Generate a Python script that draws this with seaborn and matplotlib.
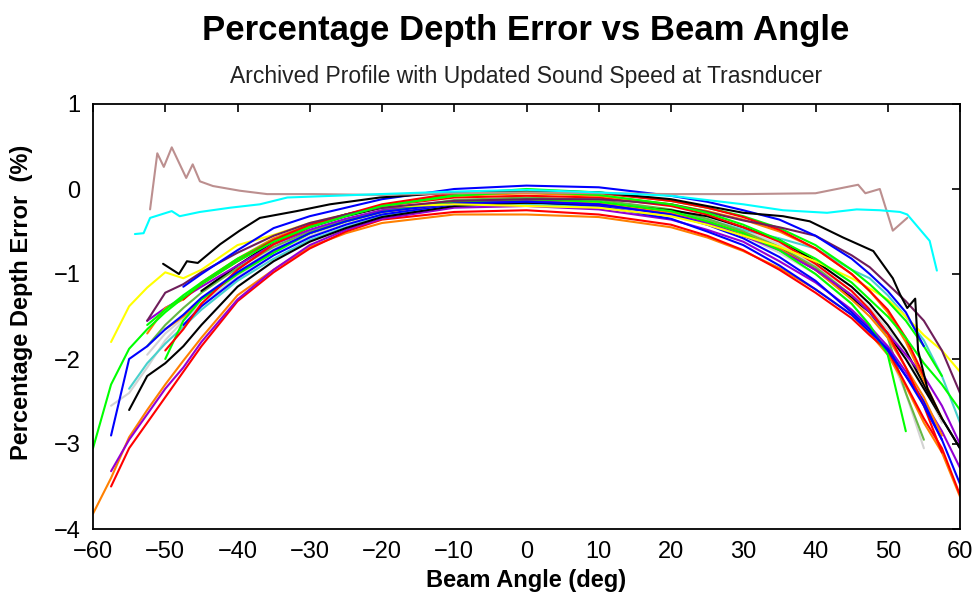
import numpy as np
import pandas as pd
import matplotlib
matplotlib.use("Agg")
import matplotlib.pyplot as plt
import seaborn as sns

sns.set_style("white")
plt.rcParams["font.family"] = ["Liberation Sans", "DejaVu Sans"]
plt.rcParams["text.color"] = "black"
plt.rcParams["xtick.color"] = "black"
plt.rcParams["ytick.color"] = "black"

# Shared angle grid for the main bundle of profiles (deg)
ANGLES = [-60, -57.5, -55, -52.5, -50, -47.5, -45, -40, -35, -30, -25, -20, -10, 0,
          10, 20, 25, 30, 35, 40, 45, 47.5, 50, 52.5, 55, 57.5, 60]
N = None

yellow   = [N, -1.80, -1.38, -1.16, -0.98, -1.05, -0.95, -0.66, -0.54, -0.40, -0.30, -0.21, -0.18, -0.20,
            -0.22, -0.32, -0.42, -0.55, -0.68, -0.85, -1.05, -1.17, -1.30, -1.50, -1.72, -1.90, -2.15]
green_a  = [-3.05, -2.30, -1.88, -1.65, -1.45, -1.28, -1.12, -0.85, -0.62, -0.45, -0.32, -0.20, -0.08, -0.03,
            -0.07, -0.18, -0.28, -0.42, -0.60, -0.82, -1.10, -1.30, -1.50, -1.75, -2.05, -2.30, -2.60]
green_b  = [N, N, N, N, -2.00, -1.55, -1.30, -1.00, -0.75, -0.52, -0.38, -0.27, -0.15, -0.12,
            -0.15, -0.26, -0.38, -0.52, -0.72, -1.00, -1.35, -1.60, -1.95, -2.85, N, N, N]
green_c  = [N, N, N, -1.60, -1.42, -1.25, -1.10, -0.82, -0.60, -0.43, -0.30, -0.20, -0.06, 0.00,
            -0.04, -0.14, -0.22, -0.32, -0.46, -0.66, -0.95, -1.12, -1.32, -1.55, -1.85, -2.20, N]
olive    = [N, N, N, -1.85, -1.60, -1.40, -1.22, -0.93, -0.68, -0.50, -0.36, -0.25, -0.13, -0.10,
            -0.13, -0.24, -0.35, -0.50, -0.68, -0.92, -1.25, -1.45, -1.75, -2.40, -2.95, N, N]
blue_a   = [N, -2.90, -2.00, -1.85, -1.65, -1.48, -1.28, -0.98, -0.72, -0.52, -0.38, -0.27, -0.17, -0.15,
            -0.18, -0.30, -0.42, -0.58, -0.80, -1.08, -1.45, -1.65, -1.90, -2.20, -2.55, -2.95, -3.47]
blue_b   = [N, N, N, N, N, -1.15, -1.00, -0.72, -0.46, -0.32, -0.22, -0.12, 0.00, 0.04,
            0.02, -0.08, -0.15, -0.25, -0.36, -0.55, -0.82, -1.00, -1.20, -1.45, -1.85, N, N]
blue_c   = [N, N, N, N, N, -1.60, -1.38, -1.05, -0.78, -0.57, -0.42, -0.30, -0.18, -0.15,
            -0.20, -0.35, -0.50, -0.66, -0.90, -1.18, -1.48, -1.68, -1.88, -2.20, -2.50, -2.95, N]
red_a    = [N, -3.50, -3.05, -2.75, -2.45, -2.15, -1.85, -1.32, -0.98, -0.70, -0.50, -0.36, -0.27, -0.25,
            -0.30, -0.42, -0.55, -0.72, -0.95, -1.22, -1.52, -1.72, -1.90, -2.30, -2.70, -3.05, -3.60]
red_b    = [N, N, N, N, -1.90, -1.65, -1.35, -0.95, -0.65, -0.45, -0.30, -0.20, -0.10, -0.08,
            -0.10, -0.20, -0.30, -0.45, -0.62, -0.88, -1.20, -1.42, -1.70, -2.10, -2.55, -3.10, N]
red_c    = [N, N, N, N, N, -1.30, -1.12, -0.85, -0.60, -0.42, -0.30, -0.18, -0.05, -0.02,
            -0.05, -0.14, -0.22, -0.33, -0.48, -0.70, -1.00, -1.20, -1.42, -1.75, -2.20, N, N]
orange_a = [-3.82, -3.40, -2.92, -2.60, -2.30, -2.02, -1.75, -1.25, -0.95, -0.68, -0.52, -0.40, -0.30, -0.30,
            -0.33, -0.45, -0.57, -0.73, -0.93, -1.18, -1.48, -1.70, -1.95, -2.32, -2.75, -3.10, -3.62]
orange_b = [N, N, N, -1.70, -1.40, -1.30, -1.10, -0.82, -0.58, -0.42, -0.30, -0.20, -0.08, -0.05,
            -0.08, -0.18, -0.26, -0.36, -0.50, -0.70, -1.00, -1.20, -1.45, -1.80, -2.25, -2.70, N]
orange_c = [N, N, N, N, -1.65, -1.50, -1.30, -1.00, -0.73, -0.52, -0.38, -0.27, -0.17, -0.14,
            -0.17, -0.28, -0.38, -0.52, -0.70, -0.95, -1.30, -1.50, -1.75, -2.10, -2.45, -2.90, N]
purple_a = [N, -3.32, -2.95, -2.65, -2.35, -2.10, -1.80, -1.30, -0.95, -0.66, -0.48, -0.35, -0.22, -0.20,
            -0.24, -0.36, -0.48, -0.62, -0.85, -1.10, -1.42, -1.62, -1.85, -2.15, -2.50, -2.85, -3.28]
purple_b = [N, N, N, -1.55, -1.40, -1.28, -1.15, -0.90, -0.65, -0.48, -0.35, -0.25, -0.16, -0.14,
            -0.18, -0.30, -0.40, -0.55, -0.72, -0.95, -1.25, -1.45, -1.70, -1.95, -2.20, -2.55, -3.00]
dpurple  = [N, N, N, -1.55, -1.22, -1.12, -0.98, -0.75, -0.55, -0.40, -0.30, -0.22, -0.14, -0.12,
            -0.12, -0.18, -0.27, -0.37, -0.45, -0.55, -0.78, -0.92, -1.12, -1.32, -1.55, -1.90, -2.40]
gray_a   = [N, -2.55, -2.40, -2.10, -1.78, -1.55, -1.35, -1.02, -0.75, -0.55, -0.40, -0.30, -0.20, -0.18,
            -0.20, -0.30, -0.40, -0.55, -0.75, -1.00, -1.35, -1.60, -1.90, -2.40, -3.05, N, N]
gray_b   = [N, N, N, -1.95, -1.70, -1.52, -1.30, -0.98, -0.70, -0.50, -0.37, -0.26, -0.15, -0.13,
            -0.16, -0.25, -0.35, -0.48, -0.65, -0.90, -1.20, -1.40, -1.65, -1.95, -2.30, -2.75, N]
turq     = [N, N, -2.35, -2.05, -1.82, -1.62, -1.42, -1.08, -0.82, -0.60, -0.45, -0.32, -0.20, -0.18,
            -0.20, -0.28, -0.36, -0.48, -0.58, -0.70, -0.95, -1.05, -1.25, -1.50, -1.78, -2.20, -2.75]
black_b  = [N, N, -2.60, -2.20, -2.05, -1.85, -1.60, -1.15, -0.85, -0.62, -0.46, -0.33, -0.20, -0.16,
            -0.18, -0.25, -0.32, -0.45, -0.60, -0.85, -1.15, -1.35, -1.60, -1.90, -2.30, -2.70, -3.05]
black_c  = [N, N, N, N, N, N, -1.20, -0.90, -0.62, -0.45, -0.32, -0.22, -0.16, -0.16,
            -0.18, -0.28, -0.40, -0.55, -0.70, -0.95, -1.28, -1.45, -1.70, -2.00, -2.35, -2.70, N]

# Irregular profiles with their own angles
black_top_angles = [-50.3, -48.1, -47.0, -45.5, -42.4, -39.7, -36.9, -31.8, -27.2, -20.3, -10, 0, 10, 20,
                    30, 35.5, 39.2, 43.8, 48.0, 50.7, 51.7, 52.7, 53.8, 54.2, 55.5, 57.5, 60]
black_top = [-0.88, -1.00, -0.85, -0.87, -0.65, -0.49, -0.34, -0.26, -0.18, -0.10, -0.04, -0.02, -0.04, -0.12,
             -0.28, -0.32, -0.38, -0.57, -0.73, -1.05, -1.24, -1.40, -1.29, -1.90, -2.35, -2.70, -3.05]
brown_angles = [-52.1, -51.1, -50.2, -49.1, -47.1, -46.2, -45.2, -43.4, -39.7, -35.9, -29.5, -20, -10, 0,
                10, 20, 30, 40, 45.9, 46.9, 48.9, 50.7, 52.7]
brown = [-0.24, 0.42, 0.26, 0.49, 0.13, 0.29, 0.09, 0.035, -0.02, -0.06, -0.06, -0.07, -0.05, -0.04,
         -0.05, -0.06, -0.06, -0.05, 0.05, -0.05, 0.00, -0.49, -0.34]
cyan_angles = [-54.2, -53.0, -52.1, -49.1, -48.0, -45.2, -41.0, -36.9, -33.1, -20.3, -10, 0, 10, 20,
               24, 30, 35.5, 41.6, 45.7, 48.9, 51.7, 52.7, 55.8, 56.8]
cyan = [-0.53, -0.52, -0.34, -0.26, -0.32, -0.27, -0.22, -0.18, -0.10, -0.06, -0.03, -0.01, -0.04, -0.08,
        -0.12, -0.18, -0.25, -0.28, -0.24, -0.25, -0.27, -0.30, -0.61, -0.96]

grid_series = {
    "gray_a": (gray_a, "#D3D3D3"), "gray_b": (gray_b, "#D3D3D3"),
    "turq": (turq, "#48D1CC"), "olive": (olive, "#66B845"),
    "orange_a": (orange_a, "#FF8000"), "red_a": (red_a, "#FF0000"),
    "purple_a": (purple_a, "#9400D3"), "black_b": (black_b, "#000000"),
    "blue_c": (blue_c, "#0000FF"), "black_c": (black_c, "#000000"),
    "orange_c": (orange_c, "#FF8000"), "purple_b": (purple_b, "#9400D3"),
    "green_b": (green_b, "#00FF00"), "red_b": (red_b, "#FF0000"),
    "blue_a": (blue_a, "#0000FF"), "yellow": (yellow, "#FFFF00"),
    "orange_b": (orange_b, "#FF8000"), "green_c": (green_c, "#00FF00"),
    "red_c": (red_c, "#FF0000"), "dpurple": (dpurple, "#6E1E5A"),
    "green_a": (green_a, "#00FF00"), "blue_b": (blue_b, "#0000FF"),
}
own_series = {
    "black_top": (black_top_angles, black_top, "#000000"),
    "brown": (brown_angles, brown, "#BC8F8F"),
    "cyan": (cyan_angles, cyan, "#00FFFF"),
}

frames = []
palette = {}
for name, (vals, col) in grid_series.items():
    frames.append(pd.DataFrame({"angle": ANGLES, "error": np.array(vals, dtype=float), "profile": name}))
    palette[name] = col
for name, (ang, vals, col) in own_series.items():
    frames.append(pd.DataFrame({"angle": ang, "error": np.array(vals, dtype=float), "profile": name}))
    palette[name] = col
df = pd.concat(frames, ignore_index=True).dropna()
order = list(grid_series) + list(own_series)

fig = plt.figure(figsize=(9.74, 5.94), dpi=100)
ax = fig.add_axes([93 / 974, 1 - 529 / 594, (960 - 93) / 974, (529 - 104) / 594])
sns.lineplot(data=df, x="angle", y="error", hue="profile", hue_order=order, palette=palette,
             estimator=None, sort=False, legend=False, linewidth=1.5, ax=ax)

ax.set_xlim(-60, 60)
ax.set_ylim(-4, 1)
ax.set_xticks(range(-60, 61, 10))
ax.set_yticks(range(-4, 2))
ax.tick_params(direction="in", length=6, width=1.2, top=True, right=True,
               labelsize=17, pad=9, colors="black")
for s in ax.spines.values():
    s.set_color("black")
    s.set_linewidth(1.3)
ax.set_xlabel("")
ax.set_ylabel("")

fig.text(526 / 974, 1 - 40 / 594, "Percentage Depth Error vs Beam Angle", ha="center", va="baseline",
         fontsize=25, fontweight="bold", color="black")
fig.text(526 / 974, 1 - 83 / 594, "Archived Profile with Updated Sound Speed at Trasnducer",
         ha="center", va="baseline", fontsize=16.5, color="#222222")
fig.text(526 / 974, 1 - 587 / 594, "Beam Angle (deg)", ha="center", va="baseline",
         fontsize=17, fontweight="bold", color="black")
fig.text(22 / 974, 1 - 302 / 594, "Percentage Depth Error  (%)", ha="center", va="center",
         rotation=90, fontsize=17, fontweight="bold", color="black")

fig.savefig("out.png", dpi=100, facecolor="white")
